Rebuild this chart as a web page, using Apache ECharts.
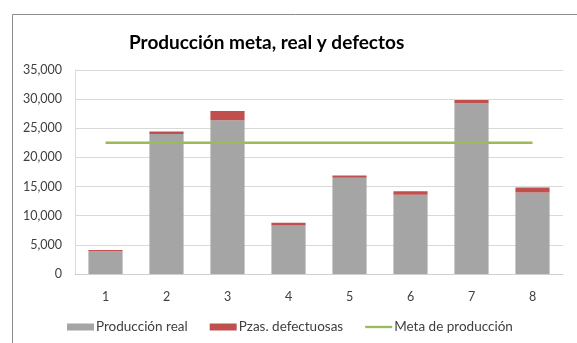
<!DOCTYPE html>
<html><head><meta charset="utf-8">
<script src="https://cdn.jsdelivr.net/npm/echarts@6/dist/echarts.min.js"></script>
<style>html,body{margin:0;padding:0;background:#fff}#c{width:577px;height:343px}</style>
</head><body><div id="c"></div>
<script>
var categories = ['1','2','3','4','5','6','7','8'];
var produccionReal = [3900, 24000, 26400, 8300, 16500, 13600, 29300, 14000];
var defectuosas = [200, 450, 1550, 500, 400, 600, 550, 850];
var meta = [22500, 22500, 22500, 22500, 22500, 22500, 22500, 22500];
var titleText = 'Producción meta, real y defectos';
var seriesNames = ['Producción real', 'Pzas. defectuosas', 'Meta de producción'];

var font = 'Lato, "Open Sans", sans-serif';
var chart = echarts.init(document.getElementById('c'), null, {renderer: 'canvas'});
chart.setOption({
  animation: false,
  backgroundColor: '#fff',
  textStyle: {fontFamily: font},
  graphic: [{
    type: 'rect', left: 10, top: 12, silent: true,
    shape: {x: 0.5, y: 0.5, width: 620, height: 400},
    style: {fill: 'none', stroke: '#8c8c8c', lineWidth: 1}
  }],
  title: {
    text: titleText, left: 124, top: 28,
    textStyle: {fontFamily: font, fontSize: 19, fontWeight: 'bold', color: '#000'}
  },
  legend: {
    bottom: 9, left: 67, padding: 0, itemWidth: 27, itemHeight: 7, itemGap: 22,
    textStyle: {fontFamily: font, fontSize: 13.5, color: '#404040', padding: [0,0,0,-3]},
    data: [
      {name: seriesNames[0], icon: 'rect'},
      {name: seriesNames[1], icon: 'rect'},
      {name: seriesNames[2], icon: 'path://M0 0H29V2.5H0Z'}
    ]
  },
  grid: {left: 75, right: 14, top: 70, bottom: 69},
  xAxis: {
    type: 'category', data: categories,
    axisLine: {lineStyle: {color: '#d0d0d0'}},
    axisTick: {show: false},
    axisLabel: {margin: 16, fontSize: 12.5, color: '#404040', fontFamily: font}
  },
  yAxis: {
    type: 'value', min: 0, max: 35000, interval: 5000,
    axisLine: {show: true, lineStyle: {color: '#d9d9d9'}},
    axisTick: {show: false},
    splitLine: {lineStyle: {color: '#d9d9d9'}},
    axisLabel: {margin: 13, fontSize: 12.5, color: '#404040', fontFamily: font,
      formatter: function (v) { return v.toLocaleString('en-US'); }}
  },
  series: [
    {name: seriesNames[0], type: 'bar', stack: 's', data: produccionReal,
     barCategoryGap: '44%', itemStyle: {color: '#a5a5a5'}},
    {name: seriesNames[1], type: 'bar', stack: 's', data: defectuosas,
     itemStyle: {color: '#c0504d'}},
    {name: seriesNames[2], type: 'line', data: meta, symbol: 'none',
     lineStyle: {color: '#9bbb59', width: 2.5}, itemStyle: {color: '#9bbb59'}}
  ]
});
</script></body></html>
